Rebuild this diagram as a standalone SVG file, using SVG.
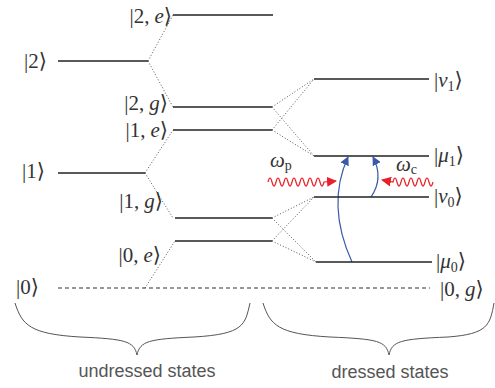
<svg xmlns="http://www.w3.org/2000/svg" width="495" height="388" viewBox="0 0 495 388">
<defs>
<style>
.lv{stroke:#222;stroke-width:1.3;fill:none}
.dot{stroke:#555;stroke-width:1;stroke-dasharray:1 2;fill:none}
.dash{stroke:#333;stroke-width:1.2;stroke-dasharray:4 3;fill:none}
.m{font-family:"Liberation Serif","DejaVu Serif",serif;font-size:21px;fill:#333}
.i{font-style:italic}
.s{font-size:14px}
.lab{font-family:"Liberation Sans","DejaVu Sans",sans-serif;font-size:18px;fill:#555}
.brace{stroke:#555;stroke-width:1;fill:none}
.blue{stroke:#3a5aa8;stroke-width:1.2;fill:none}
.red{stroke:#e8202a;stroke-width:1.2;fill:none}
</style>
<marker id="ab" viewBox="0 0 10 10" refX="9" refY="5" markerWidth="9" markerHeight="9" markerUnits="userSpaceOnUse" orient="auto"><path d="M0,0 L10,5 L0,10 z" fill="#3a5aa8"/></marker>
<marker id="ar" viewBox="0 0 10 10" refX="9" refY="5" markerWidth="10" markerHeight="10" markerUnits="userSpaceOnUse" orient="auto"><path d="M0,0 L10,5 L0,10 z" fill="#e8202a"/></marker>
</defs>
<rect width="495" height="388" fill="#fff"/>

<g id="connectors">
<path class="dot" d="M148,61 L173,15 M148,61 L173,107"/>
<path class="dot" d="M145,173 L173,130 M145,173 L173,218"/>
<path class="dot" d="M145,288 L175,241"/>
<path class="dot" d="M272,107 L314,79 M272,107 L314,156 M272,130 L314,79 M272,130 L314,156"/>
<path class="dot" d="M272,218 L314,197 M272,218 L316,262 M272,241 L314,197 M272,241 L316,262"/>
<path class="blue" marker-end="url(#ab)" d="M352,262 Q326,205 348,157"/>
<path class="blue" marker-end="url(#ab)" d="M371,197 Q384,178 373,157"/>
<path class="red" marker-end="url(#ar)" d="M268,182 q2,-8 4,0 t4,0 t4,0 t4,0 t4,0 t4,0 t4,0 t4,0 t4,0 t4,0 t4,0 t4,0 t4,0 t4,0 L336,181"/>
<path class="red" marker-end="url(#ar)" d="M433,182 q-2,8 -4,0 t-4,0 t-4,0 t-4,0 t-4,0 t-4,0 t-4,0 t-4,0 t-4,0 t-4,0 L382,180"/>
</g>

<g id="level-2"><line class="lv" x1="58" y1="61" x2="148" y2="61"/><text class="m" x="24" y="68">|2⟩</text></g>
<g id="level-1"><line class="lv" x1="58" y1="173" x2="145" y2="173"/><text class="m" x="22" y="178">|1⟩</text></g>
<g id="level-0"><line class="dash" x1="58" y1="288" x2="430" y2="288"/><text class="m" x="16" y="294">|0⟩</text></g>

<g id="level-2e"><line class="lv" x1="173" y1="15" x2="273" y2="15"/><text class="m" x="172" y="23" text-anchor="end">|2,<tspan class="i" dx="5">e</tspan>⟩</text></g>
<g id="level-2g"><line class="lv" x1="173" y1="107" x2="272" y2="107"/><text class="m" x="168" y="110" text-anchor="end">|2,<tspan class="i" dx="5">g</tspan>⟩</text></g>
<g id="level-1e"><line class="lv" x1="173" y1="130" x2="272" y2="130"/><text class="m" x="168" y="137" text-anchor="end">|1,<tspan class="i" dx="5">e</tspan>⟩</text></g>
<g id="level-1g"><line class="lv" x1="175" y1="218" x2="272" y2="218"/><text class="m" x="163" y="208" text-anchor="end">|1,<tspan class="i" dx="5">g</tspan>⟩</text></g>
<g id="level-0e"><line class="lv" x1="175" y1="241" x2="272" y2="241"/><text class="m" x="161" y="262" text-anchor="end">|0,<tspan class="i" dx="5">e</tspan>⟩</text></g>

<g id="level-nu1"><line class="lv" x1="314" y1="79" x2="429" y2="79"/><text class="m" x="434" y="87">|<tspan class="i">ν</tspan><tspan class="s" dy="4">1</tspan><tspan dy="-4">⟩</tspan></text></g>
<g id="level-mu1"><line class="lv" x1="314" y1="156" x2="429" y2="156"/><text class="m" x="434" y="162">|<tspan class="i">μ</tspan><tspan class="s" dy="4">1</tspan><tspan dy="-4">⟩</tspan></text></g>
<g id="level-nu0"><line class="lv" x1="314" y1="197" x2="429" y2="197"/><text class="m" x="434" y="203">|<tspan class="i">ν</tspan><tspan class="s" dy="4">0</tspan><tspan dy="-4">⟩</tspan></text></g>
<g id="level-mu0"><line class="lv" x1="316" y1="262" x2="432" y2="262"/><text class="m" x="436" y="268">|<tspan class="i">μ</tspan><tspan class="s" dy="4">0</tspan><tspan dy="-4">⟩</tspan></text></g>
<g id="level-0g"><text class="m" x="440" y="296">|0,<tspan class="i" dx="5">g</tspan>⟩</text></g>

<g id="omega-p"><text class="m" x="270" y="167"><tspan class="i">ω</tspan><tspan class="s" dy="3">p</tspan></text></g>
<g id="omega-c"><text class="m" x="396" y="171"><tspan class="i">ω</tspan><tspan class="s" dy="3">c</tspan></text></g>

<g id="undressed">
<path class="brace" d="M15,303 C22,325 30,334 80,337 C125,339 134,341 137,355 C140,341 149,339 194,337 C244,334 245,325 250,303"/>
<text class="lab" x="147" y="377" text-anchor="middle">undressed states</text>
</g>
<g id="dressed">
<path class="brace" d="M263,303 C270,325 278,334 330,337 C378,339 386,341 389,355 C392,341 400,339 448,337 C488,334 490,325 494,303"/>
<text class="lab" x="390" y="378" text-anchor="middle">dressed states</text>
</g>
</svg>
